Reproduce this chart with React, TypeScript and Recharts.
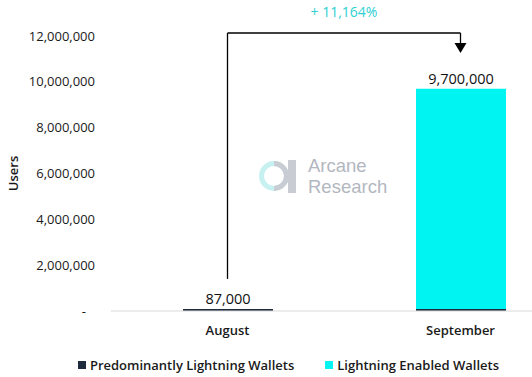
import { BarChart, Bar, XAxis, YAxis, Legend, LabelList, ReferenceLine, Label, Text } from 'recharts'

const months = ['August', 'September']
const predominantly = [87000, 87000]
const enabled = [0, 9613000]
const totals = [87000, 9700000]
const yTicks = [0, 2000000, 4000000, 6000000, 8000000, 10000000, 12000000]
const growthLabel = '+ 11,164%'
// arrow annotation levels (in users)
const arrowStart = 1400000
const arrowTop = 12130000
const arrowTip = 11260000

const DARK = '#1e2b3c'
const CYAN = '#00f5f2'
const FONT = '"Open Sans", sans-serif'

const fmt = (v: number) => v.toLocaleString('en-US')

const data = months.map((m, i) => ({
  month: m,
  predominantly: predominantly[i],
  enabled: enabled[i],
  // label sits on top of whichever segment is the visible top of the stack
  pLabel: enabled[i] === 0 ? fmt(totals[i]) : '',
  eLabel: enabled[i] === 0 ? '' : fmt(totals[i]),
}))

function YTick(props: any) {
  const { x, y, payload } = props
  const v = payload.value as number
  return (
    <Text x={v === 0 ? x - 9 : x} y={y} textAnchor="end" verticalAnchor="middle"
      fontSize={13} fill="#1a1a1a" fontFamily={FONT}>
      {v === 0 ? '-' : fmt(v)}
    </Text>
  )
}

function ArrowShape(props: any) {
  const { x1, y1, x2, y2 } = props
  const h = 10, w = 6
  return (
    <g>
      <line x1={x1} y1={y1} x2={x2} y2={y2 - h} stroke="#000" strokeWidth={1.3} />
      <polygon points={`${x2 - w},${y2 - h} ${x2 + w},${y2 - h} ${x2},${y2}`} fill="#000" />
    </g>
  )
}

function LegendContent() {
  const items = [
    { name: 'Predominantly Lightning Wallets', color: DARK },
    { name: 'Lightning Enabled Wallets', color: CYAN },
  ]
  return (
    <div style={{ display: 'flex', justifyContent: 'center', gap: 31, height: 28, paddingTop: 4, boxSizing: 'border-box', alignItems: 'center', fontFamily: FONT, fontSize: 13, fontWeight: 600, color: '#1a1a1a' }}>
      {items.map(it => (
        <div key={it.name} style={{ display: 'flex', alignItems: 'center', gap: 4 }}>
          <span style={{ width: 8, height: 8, background: it.color, display: 'inline-block' }} />
          <span>{it.name}</span>
        </div>
      ))}
    </div>
  )
}

function Watermark() {
  return (
    <div style={{ position: 'absolute', left: 258, top: 155, display: 'flex', alignItems: 'center', pointerEvents: 'none' }}>
      <svg width={42} height={38}>
        <circle cx={16} cy={19} r={12.5} fill="none" stroke="#c6f1f0" strokeWidth={5} />
        <path d="M 16 6.5 A 12.5 12.5 0 0 1 16 31.5" fill="none" stroke="#c9ccd2" strokeWidth={5} />
        <rect x={30} y={3} width={8} height={33} fill="#c9ccd2" />
      </svg>
      <div style={{ fontFamily: '"Liberation Sans", Arial, sans-serif', fontSize: 18.5, lineHeight: '21px', color: '#b3b7bf', marginLeft: 8 }}>
        <div>Arcane</div>
        <div>Research</div>
      </div>
    </div>
  )
}

export default function App() {
  return (
    <div style={{ position: 'absolute', left: 0, top: 0, width: 532, height: 377, overflow: 'hidden', background: '#fff' }}>
      <BarChart width={577} height={377} data={data} margin={{ top: 36, right: 0, bottom: 0, left: 0 }} barSize={90}>
        <XAxis dataKey="month" height={38} tickLine={false} tickSize={0} tickMargin={15}
          axisLine={{ stroke: '#d9d9d9' }}
          tick={{ fontSize: 13, fontWeight: 600, fill: '#1a1a1a', fontFamily: FONT }} />
        <YAxis width={111} domain={[0, 12000000]} ticks={yTicks} axisLine={false} tickLine={false}
          tickSize={0} tickMargin={16} tick={<YTick />} interval={0}>
          <Label value="Users" angle={-90} position="insideLeft" offset={13}
            style={{ textAnchor: 'middle', fontSize: 13, fontWeight: 600, fill: '#1a1a1a', fontFamily: FONT }} />
        </YAxis>
        <Legend verticalAlign="bottom" height={28} content={<LegendContent />} />
        <Bar dataKey="predominantly" stackId="a" fill={DARK} isAnimationActive={false} name="Predominantly Lightning Wallets">
          <LabelList dataKey="pLabel" position="top" offset={5} style={{ fontSize: 14.5, fill: '#111', fontFamily: FONT }} />
        </Bar>
        <Bar dataKey="enabled" stackId="a" fill={CYAN} isAnimationActive={false} name="Lightning Enabled Wallets">
          <LabelList dataKey="eLabel" position="top" offset={5} style={{ fontSize: 14.5, fill: '#111', fontFamily: FONT }} />
        </Bar>
        <ReferenceLine ifOverflow="visible" stroke="#000" strokeWidth={1.3}
          segment={[{ x: months[0], y: arrowStart }, { x: months[0], y: arrowTop }]} />
        <ReferenceLine ifOverflow="visible" stroke="#000" strokeWidth={1.3}
          segment={[{ x: months[0], y: arrowTop }, { x: months[1], y: arrowTop }]}>
          <Label value={growthLabel} position="top" offset={16}
            style={{ fontSize: 14, fill: '#2ed0d4', fontFamily: FONT }} />
        </ReferenceLine>
        <ReferenceLine ifOverflow="visible" shape={<ArrowShape />}
          segment={[{ x: months[1], y: arrowTop }, { x: months[1], y: arrowTip }]} />
      </BarChart>
      <Watermark />
    </div>
  )
}
